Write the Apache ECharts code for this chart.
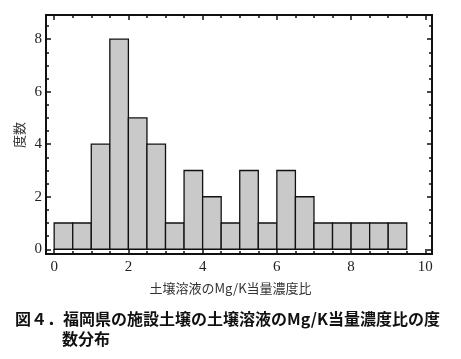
<!DOCTYPE html>
<html><head><meta charset="utf-8">
<script src="https://cdn.jsdelivr.net/npm/echarts@6/dist/echarts.min.js"></script>
<style>html,body{margin:0;padding:0;background:#fff}#c{width:461px;height:359px}</style>
</head><body><div id="c"></div>
<script>
// Histogram bins (width 0.5) and counts
const binStarts = [0,0.5,1,1.5,2,2.5,3,3.5,4,4.5,5,5.5,6,6.5,7,7.5,8,8.5,9];
const counts    = [1,1,4,8,5,4,1,3,2,1,3,1,3,2,1,1,1,1,1];
const binWidth = 0.5;
const xTickLabels = [0,2,4,6,8,10];
const yTickLabels = [0,2,4,6,8];
const xMinor = []; for (let v = 0.5; v < 10.1; v += 0.5) if (v % 2 !== 0) xMinor.push(v);
const yMinor = []; for (let v = 0.5; v < 8.9; v += 0.5) if (v % 2 !== 0) yMinor.push(v);
const xName = '土壌溶液のMg/K当量濃度比';
const yName = '度数';
const caption1 = '図４．福岡県の施設土壌の土壌溶液のMg/K当量濃度比の度';
const caption2 = '数分布';

const XMIN = -0.22, XMAX = 10.18, YMIN = -0.18, YMAX = 8.92;
const lineStyle = {color:'#111', width:2};
function xa(pos, ticks, len, labels) {
  return {type:'value', position:pos, min:XMIN, max:XMAX,
    axisLine:{show:true, onZero:false, lineStyle},
    axisTick:{show:true, inside:true, length:len, customValues:ticks, lineStyle:{color:'#111', width:1.5}},
    axisLabel:labels ? {show:true, customValues:xTickLabels, margin:6, color:'#222', fontSize:15, fontFamily:'Liberation Serif'} : {show:false},
    splitLine:{show:false}};
}
function ya(pos, ticks, len, labels) {
  return {type:'value', position:pos, min:YMIN, max:YMAX,
    axisLine:{show:true, onZero:false, lineStyle},
    axisTick:{show:true, inside:true, length:len, customValues:ticks, lineStyle:{color:'#111', width:1.5}},
    axisLabel:labels ? {show:true, customValues:yTickLabels, margin:4, color:'#222', fontSize:15, fontFamily:'Liberation Serif'} : {show:false},
    splitLine:{show:false}};
}
const chart = echarts.init(document.getElementById('c'));
chart.setOption({
  animation:false,
  grid:{left:46, right:29, top:15, bottom:105},
  xAxis:[xa('bottom', xTickLabels, 5, true), xa('bottom', xMinor, 3, false), xa('top', xTickLabels, 5, false), xa('top', xMinor, 3, false)],
  yAxis:[ya('left', yTickLabels, 5, true), ya('left', yMinor, 3, false), ya('right', yTickLabels, 5, false), ya('right', yMinor, 3, false)],
  series:[{
    type:'custom', xAxisIndex:0, yAxisIndex:0,
    data: binStarts.map((s,i)=>[s, counts[i]]),
    renderItem:function(params, api){
      const x0 = api.value(0), c = api.value(1);
      const p0 = api.coord([x0, 0]);
      const p1 = api.coord([x0 + binWidth, c]);
      return {type:'rect', shape:{x:p0[0], y:p1[1], width:p1[0]-p0[0], height:p0[1]-p1[1]},
        style:{fill:'#c9c9c9', stroke:'#111', lineWidth:1.3}};
    }
  }],
  graphic:[
    {type:'text', left:'center', x:0, style:{text:xName, x:232, y:288, align:'center', verticalAlign:'middle', fontSize:13, fill:'#333', fontFamily:'Noto Sans CJK JP'}, position:[0,0]},
    {type:'text', rotation:Math.PI/2, x:19, y:135, style:{text:yName, align:'center', verticalAlign:'middle', fontSize:13, fill:'#333', fontFamily:'Noto Sans CJK JP'}},
    {type:'text', x:15, y:319, style:{text:caption1, align:'left', verticalAlign:'middle', fontSize:16, fontWeight:'bold', fill:'#111', fontFamily:'Noto Sans CJK JP'}},
    {type:'text', x:62, y:339, style:{text:caption2, align:'left', verticalAlign:'middle', fontSize:16, fontWeight:'bold', fill:'#111', fontFamily:'Noto Sans CJK JP'}}
  ]
});
</script></body></html>
